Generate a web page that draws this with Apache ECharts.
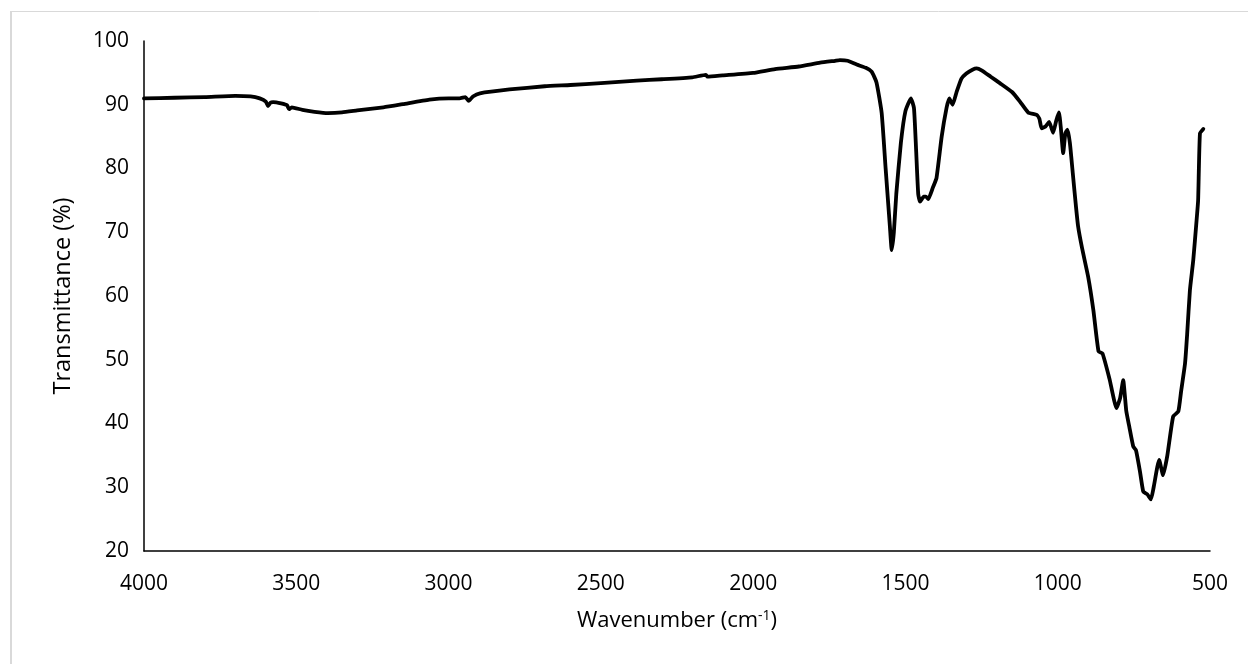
<!DOCTYPE html>
<html>
<head>
<meta charset="utf-8">
<script src="https://cdn.jsdelivr.net/npm/echarts@6/dist/echarts.min.js"></script>
<style>
html,body{margin:0;padding:0;background:#fff;}
#c{width:1248px;height:664px;}
</style>
</head>
<body>
<div id="c"></div>
<script>
const wavenumber = [4000,3900,3800,3700,3650,3620,3600,3593,3585,3576,3550,3530,3524,3515,3480,3440,3396,3350,3300,3214,3150,3063,3000,2964,2945,2934,2920,2897,2800,2684,2600,2500,2382,2300,2200,2155,2150,2100,2000,1928,1850,1780,1731,1715,1690,1660,1630,1611,1595,1578,1565,1551,1545,1538,1530,1515,1500,1482,1472,1465,1458,1452,1440,1433,1425,1410,1398,1381,1365,1356,1345,1332,1316,1300,1280,1266,1250,1220,1190,1150,1124,1097,1069,1060,1053,1040,1028,1015,1005,996,990,982,975,968,960,950,940,933,920,900,883,866,853,830,807,795,785,775,765,752,743,730,719,706,694,685,667,654,640,621,604,595,582,575,566,555,544,539,533,522];
const transmittance = [91.0,91.1,91.2,91.4,91.3,91.0,90.5,89.8,90.3,90.4,90.2,89.9,89.3,89.6,89.2,88.9,88.7,88.8,89.1,89.6,90.1,90.8,91.0,91.0,91.2,90.6,91.3,91.8,92.4,92.9,93.1,93.4,93.8,94.0,94.3,94.7,94.4,94.6,95.0,95.6,96.0,96.6,96.9,97.0,96.9,96.3,95.8,95.2,93.5,88.7,80,70.9,67.2,70,76,84,89,91.0,89.5,83,76,74.8,75.6,75.6,75.2,77,78.5,85,89.5,91,90,92,94.1,94.9,95.5,95.7,95.4,94.4,93.4,92.0,90.5,88.8,88.4,87.8,86.3,86.6,87.3,85.6,87.5,88.8,86.5,82.4,85.5,86.1,84,79,74,70.9,67.5,63,57.8,51.3,51.0,47,42.4,44,46.8,42,39.5,36.4,35.8,32.5,29.3,28.9,28.1,30,34.3,31.9,35,41.1,41.9,45,49.4,54,60.9,65.6,71.9,75,85.5,86.2];
const xTicks = [4000,3500,3000,2500,2000,1500,1000,500];
const yTicks = [20,30,40,50,60,70,80,90,100];

const FONT = 'Open Sans';
const chart = echarts.init(document.getElementById('c'), null, {renderer:'canvas'});
const data = wavenumber.map((w,i)=>[w, transmittance[i]]);
chart.setOption({
  animation:false,
  backgroundColor:'#fff',
  grid:{left:144, right:38, top:41, bottom:113, containLabel:false},
  xAxis:{
    type:'value', inverse:true, min:500, max:4000, interval:500,
    axisLine:{show:true, lineStyle:{color:'#000', width:1.5}},
    axisTick:{show:false}, splitLine:{show:false},
    axisLabel:{color:'#000', fontFamily:FONT, fontSize:21, margin:23,
      formatter:v=> xTicks.includes(v)? String(v):''},
    name:'{a|Wavenumber (cm}{s|-1}{a|)}', nameLocation:'middle', nameGap:58,
    nameTextStyle:{rich:{
      a:{color:'#000', fontFamily:FONT, fontSize:22},
      s:{color:'#000', fontFamily:FONT, fontSize:14, padding:[0,0,10,0]}
    }}
  },
  yAxis:{
    type:'value', min:20, max:100, interval:10,
    axisLine:{show:true, lineStyle:{color:'#000', width:1.5}},
    axisTick:{show:false}, splitLine:{show:false},
    axisLabel:{color:'#000', fontFamily:FONT, fontSize:21, margin:15,
      formatter:v=> yTicks.includes(v)? String(v):''},
    name:'Transmittance (%)', nameLocation:'middle', nameGap:69,
    nameTextStyle:{color:'#000', fontFamily:FONT, fontSize:23.5}
  },
  graphic:[
    {type:'line', shape:{x1:11, y1:11, x2:11, y2:664}, style:{stroke:'#d9d9d9', lineWidth:2}, silent:true},
    {type:'line', shape:{x1:10, y1:11.5, x2:1248, y2:11.5}, style:{stroke:'#d9d9d9', lineWidth:1}, silent:true}
  ],
  series:[{
    type:'line', data:data, showSymbol:false, symbol:'none', smooth:0.15,
    lineStyle:{color:'#000', width:3.8, join:'round', cap:'round'}
  }]
});
</script>
</body>
</html>
